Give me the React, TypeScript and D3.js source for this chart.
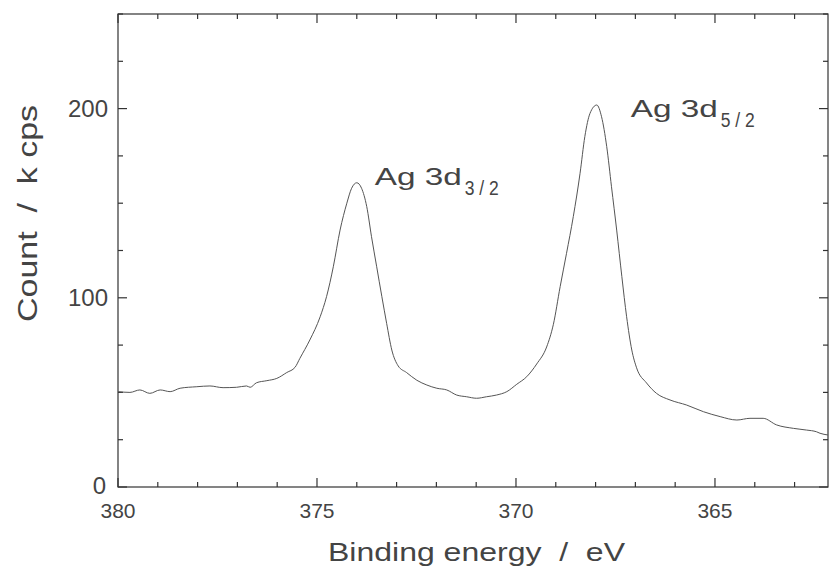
import React from "react";
import * as d3 from "d3";

const energy = [
  380.0, 379.7, 379.45, 379.2, 378.94, 378.69, 378.44, 378.02, 377.69, 377.36,
  377.02, 376.77, 376.68, 376.52, 376.26, 376.01, 375.76, 375.55, 375.43, 375.18,
  374.92, 374.76, 374.59, 374.42, 374.25, 374.13, 374.0, 373.88, 373.75, 373.63,
  373.5, 373.37, 373.25, 373.12, 372.96, 372.75, 372.49, 372.24, 371.99, 371.74,
  371.49, 371.24, 370.99, 370.74, 370.49, 370.23, 369.98, 369.73, 369.48, 369.23,
  369.06, 368.89, 368.73, 368.56, 368.39, 368.27, 368.14, 367.97, 367.85, 367.72,
  367.6, 367.47, 367.34, 367.22, 367.09, 366.97, 366.72, 366.47, 366.13, 365.71,
  365.29, 364.87, 364.45, 364.12, 363.79, 363.45, 363.03, 362.7, 362.45, 362.36,
  362.16,
];
const counts = [
  50.4, 50.0, 51.3, 49.5, 51.3, 50.4, 52.2, 53.0, 53.4, 52.5,
  52.7, 53.4, 52.7, 55.1, 56.2, 57.4, 60.5, 63.3, 68.0, 77.7,
  90.0, 100.6, 116.4, 135.8, 150.0, 157.9, 160.8, 157.9, 148.2, 132.3,
  116.4, 100.6, 86.5, 72.4, 64.0, 60.5, 56.4, 53.9, 52.2, 51.3,
  48.6, 47.7, 46.9, 47.7, 48.6, 50.4, 54.3, 58.3, 65.0, 74.0,
  86.0, 105.9, 123.5, 142.9, 165.8, 185.2, 197.5, 201.9, 195.7, 179.9,
  158.7, 135.8, 111.2, 90.0, 72.4, 63.0, 55.0, 49.5, 46.0, 43.3,
  39.8, 37.2, 35.4, 36.3, 36.3, 32.8, 31.0, 30.1, 29.2, 28.4,
  27.5,
];
const xTickLabels = [380, 375, 370, 365];
const yTickLabels = [0, 100, 200];
const peakLabels = [
  { e: 374.0, v: 160.8, main: "Ag 3d", sub: "3 / 2" },
  { e: 367.97, v: 201.9, main: "Ag 3d", sub: "5 / 2" },
];

const W = 829;
const H = 570;
const L = 118, R = 828, T = 14, B = 487;
const FONT = "'Liberation Sans', Arial, Helvetica, sans-serif";
const TXT = "#444";

export default function App() {
  const x = d3.scaleLinear().domain([380, 362.16]).range([L, R]);
  const y = d3.scaleLinear().domain([0, 250]).range([B, T]);
  const data = energy.map((e, i) => [e, counts[i]] as [number, number]);
  const line = d3
    .line<[number, number]>()
    .x((d) => x(d[0]))
    .y((d) => y(d[1]))
    .curve(d3.curveMonotoneX);

  const xTicks = d3.range(380, 362, -1);
  const yTicks = d3.range(0, 251, 25);

  return (
    <svg
      width={W}
      height={H}
      style={{ position: "fixed", left: 0, top: 0, background: "#fff" }}
      fontFamily={FONT}
    >
      <rect x={0} y={0} width={W} height={H} fill="#fff" />
      <rect x={L} y={T} width={R - L} height={B - T} fill="none" stroke="#333" strokeWidth={1.2} />
      {xTicks.map((t) => {
        const major = t % 5 === 0;
        const len = major ? 9 : 5;
        return (
          <g key={"x" + t}>
            <line x1={x(t)} x2={x(t)} y1={B} y2={B - len} stroke="#333" strokeWidth={1.2} />
            <line x1={x(t)} x2={x(t)} y1={T} y2={T + len} stroke="#333" strokeWidth={1.2} />
          </g>
        );
      })}
      {yTicks.map((t) => {
        const major = t % 100 === 0;
        const len = major ? 9 : 5;
        return (
          <g key={"y" + t}>
            <line x1={L} x2={L + len} y1={y(t)} y2={y(t)} stroke="#333" strokeWidth={1.2} />
            <line x1={R} x2={R - len} y1={y(t)} y2={y(t)} stroke="#333" strokeWidth={1.2} />
          </g>
        );
      })}
      {xTickLabels.map((t) => (
        <text key={"xl" + t} x={x(t)} y={518} textAnchor="middle" fontSize={21} fill={TXT}>
          {t}
        </text>
      ))}
      {yTickLabels.map((t) => (
        <text
          key={"yl" + t}
          x={t === 0 ? 106 : 108}
          y={t === 0 ? y(t) - 2 : y(t)}
          textAnchor="end"
          dominantBaseline="central"
          fontSize={24}
          fill={TXT}
        >
          {t}
        </text>
      ))}
      <path d={line(data) || ""} fill="none" stroke="#555" strokeWidth={1} />
      {peakLabels.map((p, i) => {
        const px = x(p.e) + (i === 0 ? 18 : 34);
        const py = y(p.v) + (i === 0 ? 2 : 12);
        return (
          <g key={"pl" + i} fill={TXT}>
            <text x={px} y={py} fontSize={24} textLength={87} lengthAdjust="spacingAndGlyphs">
              {p.main}
            </text>
            <text
              x={px + 90}
              y={py + 10}
              fontSize={20}
              textLength={34}
              lengthAdjust="spacingAndGlyphs"
              style={{ whiteSpace: "pre" }}
            >
              {p.sub}
            </text>
          </g>
        );
      })}
      <text
        x={328}
        y={561}
        fontSize={26}
        fill={TXT}
        textLength={297}
        lengthAdjust="spacingAndGlyphs"
        style={{ whiteSpace: "pre" }}
      >
        {"Binding energy  /  eV"}
      </text>
      <text
        transform={"translate(37,322) rotate(-90)"}
        x={0}
        y={0}
        fontSize={28}
        fill={TXT}
        textLength={217}
        lengthAdjust="spacingAndGlyphs"
        style={{ whiteSpace: "pre" }}
      >
        {"Count  /  k cps"}
      </text>
    </svg>
  );
}
